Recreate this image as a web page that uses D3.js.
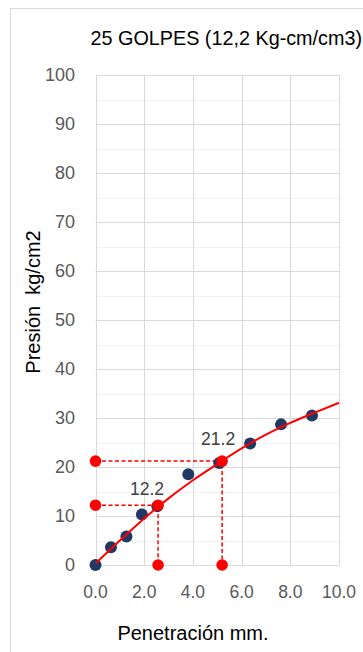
<!DOCTYPE html>
<html><head><meta charset="utf-8">
<script src="https://cdn.jsdelivr.net/npm/d3@7"></script>
<style>html,body{margin:0;padding:0;background:#fff;}svg{display:block;}</style>
</head><body>
<script>
// ---- data ----
const title = "25 GOLPES (12,2 Kg-cm/cm3)";
const xTitle = "Penetración mm.";
const yTitle = "Presión  kg/cm2";
const penetration = [0, 0.635, 1.27, 1.905, 2.54, 3.81, 5.08, 6.35, 7.62, 8.89];
const pressure = [0, 3.6, 5.8, 10.3, 12.0, 18.5, 20.8, 24.8, 28.7, 30.5];
const trendX = [0, 1, 2, 3, 4, 5, 6, 7, 8, 9, 10];
const trendY = [0.3, 5.0, 9.5, 13.6, 17.3, 20.6, 23.8, 26.6, 29.0, 31.1, 33.1];
const markX = [2.57, 5.2];
const markY = [12.2, 21.2];
const markLabels = ["12.2", "21.2"];
const xTicks = [0, 2, 4, 6, 8, 10];
const yTicks = [0, 10, 20, 30, 40, 50, 60, 70, 80, 90, 100];
const yMinor = [5, 15, 25, 35, 45, 55, 65, 75, 85, 95];

const W = 363, H = 652;
const svg = d3.select("body").append("svg").attr("width", W).attr("height", H);
const FONT = "'Liberation Sans', Arial, sans-serif";

svg.append("rect").attr("x", 10.5).attr("y", 8.5).attr("width", 400).attr("height", 700)
  .attr("fill", "#fff").attr("stroke", "#d9d9d9").attr("stroke-width", 1);

const x = d3.scaleLinear().domain([0, 10]).range([95.5, 339]);
const y = d3.scaleLinear().domain([0, 100]).range([565, 75]);

// minor gridlines
svg.append("g").selectAll("line").data(yMinor).join("line")
  .attr("x1", x(0)).attr("x2", x(10)).attr("y1", d => Math.round(y(d)) + 0.5).attr("y2", d => Math.round(y(d)) + 0.5)
  .attr("stroke", "#f2f2f2").attr("stroke-width", 1);
// major gridlines
svg.append("g").selectAll("line").data(yTicks).join("line")
  .attr("x1", x(0)).attr("x2", x(10)).attr("y1", d => Math.round(y(d)) + 0.5).attr("y2", d => Math.round(y(d)) + 0.5)
  .attr("stroke", "#d9d9d9").attr("stroke-width", 1);
svg.append("g").selectAll("line").data(xTicks).join("line")
  .attr("y1", y(0)).attr("y2", y(100)).attr("x1", d => Math.round(x(d)) + 0.5).attr("x2", d => Math.round(x(d)) + 0.5)
  .attr("stroke", "#d9d9d9").attr("stroke-width", 1);

// y tick labels
svg.append("g").selectAll("text").data(yTicks).join("text")
  .attr("x", 75).attr("y", d => y(d)).attr("dy", "0.35em").attr("text-anchor", "end")
  .attr("font-family", FONT).attr("font-size", 18).attr("fill", "#595959")
  .text(d => d3.format("d")(d));
// x tick labels
svg.append("g").selectAll("text").data(xTicks).join("text")
  .attr("x", d => x(d)).attr("y", 598).attr("text-anchor", "middle")
  .attr("font-family", FONT).attr("font-size", 17.5).attr("fill", "#595959")
  .text(d => d3.format(".1f")(d));

// title
svg.append("text").attr("x", 90.5).attr("y", 45).attr("font-family", FONT).attr("font-size", 19.8)
  .attr("fill", "#000").text(title);
// axis titles
svg.append("text").attr("x", 193).attr("y", 640).attr("text-anchor", "middle")
  .attr("font-family", FONT).attr("font-size", 20).attr("fill", "#000").text(xTitle);
svg.append("text").attr("transform", "translate(40,302) rotate(-90)").attr("text-anchor", "middle")
  .attr("font-family", FONT).attr("font-size", 20).attr("fill", "#000").attr("xml:space", "preserve")
  .style("white-space", "pre").text(yTitle);

// dashed guide lines
const guides = svg.append("g");
markX.forEach((mx, i) => {
  const my = markY[i];
  guides.append("path")
    .attr("d", d3.line()([[x(0), y(my)], [x(mx), y(my)], [x(mx), y(0)]]))
    .attr("fill", "none").attr("stroke", "#ff0000").attr("stroke-width", 1.5).attr("stroke-dasharray", "4,2.5");
});

// blue data points
svg.append("g").selectAll("circle").data(penetration).join("circle")
  .attr("cx", d => x(d)).attr("cy", (d, i) => y(pressure[i])).attr("r", 6)
  .attr("fill", "#203864");

// trend line
const trend = trendX.map((d, i) => [x(d), y(trendY[i])]);
svg.append("path").attr("d", d3.line().curve(d3.curveMonotoneX)(trend))
  .attr("fill", "none").attr("stroke", "#ff0000").attr("stroke-width", 2);

// red markers
const redPts = [];
markX.forEach((mx, i) => {
  redPts.push([0, markY[i]], [mx, markY[i]], [mx, 0]);
});
svg.append("g").selectAll("circle").data(redPts).join("circle")
  .attr("cx", d => x(d[0])).attr("cy", d => y(d[1])).attr("r", 5.8).attr("fill", "#ff0000");

// value labels
const labelDx = [-11, -4];
const labelDy = [-10.5, -16];
svg.append("g").selectAll("text").data(markLabels).join("text")
  .attr("x", (d, i) => x(markX[i]) + labelDx[i]).attr("y", (d, i) => y(markY[i]) + labelDy[i])
  .attr("text-anchor", "middle").attr("font-family", FONT).attr("font-size", 17.5).attr("fill", "#404040")
  .text(d => d);
</script>
</body></html>
